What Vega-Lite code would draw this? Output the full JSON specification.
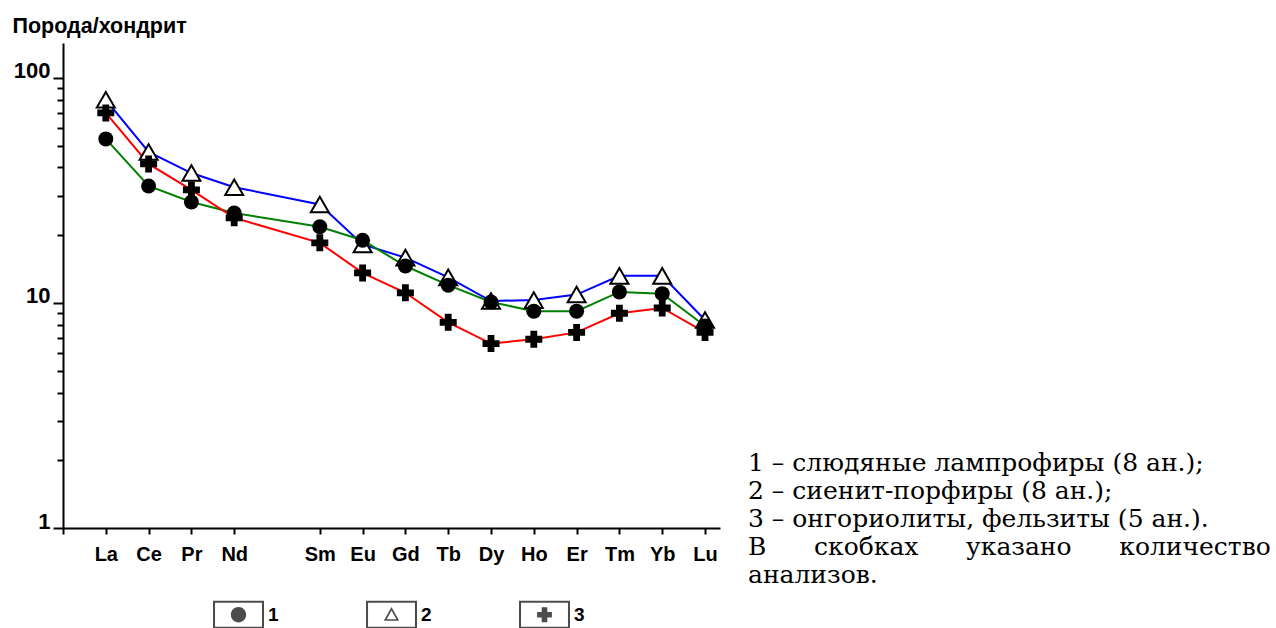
{
  "$schema": "https://vega.github.io/schema/vega-lite/v6.json",
  "width": 657,
  "height": 485,
  "autosize": {"type": "none"},
  "padding": {"left": 63, "top": 43, "right": 556, "bottom": 100},
  "background": "white",
  "config": {"view": {"stroke": null}, "font": "Liberation Sans"},
  "title": {
    "text": ["1 – слюдяные лампрофиры (8 ан.);", "2 – сиенит-порфиры (8 ан.);", "3 – онгориолиты, фельзиты (5 ан.).", "В\u00a0\u00a0\u00a0\u00a0\u00a0\u00a0скобках\u00a0\u00a0\u00a0\u00a0\u00a0\u00a0указано\u00a0\u00a0\u00a0\u00a0\u00a0\u00a0количество", "анализов."],
    "orient": "bottom", "anchor": "start", "frame": "group",
    "font": "DejaVu Serif", "fontSize": 25, "fontWeight": "normal",
    "lineHeight": 28, "baseline": "alphabetic", "align": "left",
    "dx": 685, "dy": -158, "offset": 0, "color": "black"
  },
  "data": {"values": [
    {"el": "La", "idx": 1, "series": "1", "value": 53.6},
    {"el": "Ce", "idx": 2, "series": "1", "value": 33.1},
    {"el": "Pr", "idx": 3, "series": "1", "value": 28.1},
    {"el": "Nd", "idx": 4, "series": "1", "value": 25.1},
    {"el": "Sm", "idx": 6, "series": "1", "value": 21.8},
    {"el": "Eu", "idx": 7, "series": "1", "value": 19.0},
    {"el": "Gd", "idx": 8, "series": "1", "value": 14.6},
    {"el": "Tb", "idx": 9, "series": "1", "value": 12.0},
    {"el": "Dy", "idx": 10, "series": "1", "value": 10.1},
    {"el": "Ho", "idx": 11, "series": "1", "value": 9.2},
    {"el": "Er", "idx": 12, "series": "1", "value": 9.2},
    {"el": "Tm", "idx": 13, "series": "1", "value": 11.2},
    {"el": "Yb", "idx": 14, "series": "1", "value": 11.0},
    {"el": "Lu", "idx": 15, "series": "1", "value": 7.9},
    {"el": "La", "idx": 1, "series": "2", "value": 80.0},
    {"el": "Ce", "idx": 2, "series": "2", "value": 46.9},
    {"el": "Pr", "idx": 3, "series": "2", "value": 37.8},
    {"el": "Nd", "idx": 4, "series": "2", "value": 32.7},
    {"el": "Sm", "idx": 6, "series": "2", "value": 27.4},
    {"el": "Eu", "idx": 7, "series": "2", "value": 18.2},
    {"el": "Gd", "idx": 8, "series": "2", "value": 15.9},
    {"el": "Tb", "idx": 9, "series": "2", "value": 13.0},
    {"el": "Dy", "idx": 10, "series": "2", "value": 10.2},
    {"el": "Ho", "idx": 11, "series": "2", "value": 10.3},
    {"el": "Er", "idx": 12, "series": "2", "value": 10.9},
    {"el": "Tm", "idx": 13, "series": "2", "value": 13.2},
    {"el": "Yb", "idx": 14, "series": "2", "value": 13.2},
    {"el": "Lu", "idx": 15, "series": "2", "value": 8.4},
    {"el": "La", "idx": 1, "series": "3", "value": 69.9},
    {"el": "Ce", "idx": 2, "series": "3", "value": 41.5},
    {"el": "Pr", "idx": 3, "series": "3", "value": 31.8},
    {"el": "Nd", "idx": 4, "series": "3", "value": 23.9},
    {"el": "Sm", "idx": 6, "series": "3", "value": 18.5},
    {"el": "Eu", "idx": 7, "series": "3", "value": 13.6},
    {"el": "Gd", "idx": 8, "series": "3", "value": 11.1},
    {"el": "Tb", "idx": 9, "series": "3", "value": 8.2},
    {"el": "Dy", "idx": 10, "series": "3", "value": 6.6},
    {"el": "Ho", "idx": 11, "series": "3", "value": 6.9},
    {"el": "Er", "idx": 12, "series": "3", "value": 7.4},
    {"el": "Tm", "idx": 13, "series": "3", "value": 9.0},
    {"el": "Yb", "idx": 14, "series": "3", "value": 9.5},
    {"el": "Lu", "idx": 15, "series": "3", "value": 7.4}
  ]},
  "encoding": {
    "x": {
      "field": "idx", "type": "quantitative",
      "scale": {"domain": [0, 15.35], "nice": false, "zero": false},
      "axis": {
        "values": [0, 1, 2, 3, 4, 6, 7, 8, 9, 10, 11, 12, 13, 14, 15],
        "labelExpr": "['','La','Ce','Pr','Nd','Pm','Sm','Eu','Gd','Tb','Dy','Ho','Er','Tm','Yb','Lu'][datum.value]",
        "title": null, "grid": false,
        "domainColor": "black", "domainWidth": 2,
        "tickColor": "black", "tickWidth": 2, "tickSize": 6,
        "labelFont": "Liberation Sans", "labelFontWeight": "bold", "labelFontSize": 20,
        "labelColor": "black", "labelPadding": 10, "labelFlush": false, "labelOverlap": false
      }
    },
    "y": {
      "field": "value", "type": "quantitative",
      "scale": {"type": "log", "domain": [1, 143], "nice": false},
      "axis": {
        "values": [1, 2, 3, 4, 5, 6, 7, 8, 9, 10, 20, 30, 40, 50, 60, 70, 80, 90, 100],
        "labelExpr": "datum.value == 1 || datum.value == 10 || datum.value == 100 ? format(datum.value, 'd') : ''",
        "title": "Порода/хондрит", "titleAngle": 0, "titleX": -51, "titleY": -11,
        "titleAlign": "left", "titleBaseline": "alphabetic",
        "titleFont": "Liberation Sans", "titleFontWeight": "bold", "titleFontSize": 21.5, "titleColor": "black",
        "grid": false,
        "domainColor": "black", "domainWidth": 2,
        "tickColor": "black", "tickWidth": 2,
        "tickSize": {"condition": {"test": "datum.value == 1 || datum.value == 10 || datum.value == 100", "value": 10}, "value": 6},
        "labelFont": "Liberation Sans", "labelFontWeight": "bold", "labelFontSize": 22,
        "labelColor": "black", "labelBaseline": "alphabetic", "labelPadding": 3,
        "labelFlush": false, "labelOverlap": false
      }
    }
  },
  "layer": [
    {
      "transform": [{"filter": "datum.series == '2'"}],
      "mark": {"type": "line", "strokeWidth": 2, "color": "#0000ff"}
    },
    {
      "transform": [{"filter": "datum.series == '1'"}],
      "mark": {"type": "line", "strokeWidth": 2, "color": "#008000"}
    },
    {
      "transform": [{"filter": "datum.series == '3'"}],
      "mark": {"type": "line", "strokeWidth": 2, "color": "#ff0000"}
    },
    {
      "transform": [{"filter": "datum.series == '2'"}],
      "mark": {"type": "point", "shape": "triangle-up", "filled": true, "fill": "white", "stroke": "black", "strokeWidth": 2, "size": 324, "opacity": 1}
    },
    {
      "transform": [{"filter": "datum.series == '3'"}],
      "mark": {"type": "point", "shape": "cross", "filled": true, "color": "black", "size": 289, "opacity": 1}
    },
    {
      "transform": [{"filter": "datum.series == '1'"}],
      "mark": {"type": "point", "shape": "circle", "filled": true, "color": "black", "size": 225, "opacity": 1}
    },
    {
      "transform": [{"filter": "datum.idx > 100"}],
      "mark": {"type": "point", "filled": true, "color": "black"},
      "encoding": {
        "shape": {
          "field": "series", "type": "nominal",
          "scale": {
            "domain": ["1", "2", "3"],
            "range": [
              "M-1,-0.55H1V0.55H-1Z M-0.92,-0.47V0.47H0.92V-0.47Z M-0.3,0A0.3 0.3 0 1 0 0.3,0A0.3 0.3 0 1 0 -0.3,0Z",
              "M-1,-0.55H1V0.55H-1Z M-0.92,-0.47V0.47H0.92V-0.47Z M0,-0.3L0.3,0.24L-0.3,0.24Z M0,-0.17L-0.19,0.175L0.19,0.175Z",
              "M-1,-0.55H1V0.55H-1Z M-0.92,-0.47V0.47H0.92V-0.47Z M-0.11,-0.29H0.11V-0.11H0.29V0.11H0.11V0.29H-0.11V0.11H-0.29V-0.11H-0.11Z"
            ]
          },
          "legend": {
            "orient": "none", "legendX": 150, "legendY": 546,
            "direction": "horizontal", "title": null,
            "symbolSize": 2601, "symbolFillColor": "black", "symbolStrokeWidth": 0,
            "labelFont": "Liberation Sans", "labelFontWeight": "bold", "labelFontSize": 19,
            "labelColor": "black", "labelBaseline": "middle", "labelOffset": 4,
            "columnPadding": 87, "padding": 0,
            "encode": {"labels": {"update": {"dy": {"value": 3}}}}
          }
        }
      }
    }
  ]
}
